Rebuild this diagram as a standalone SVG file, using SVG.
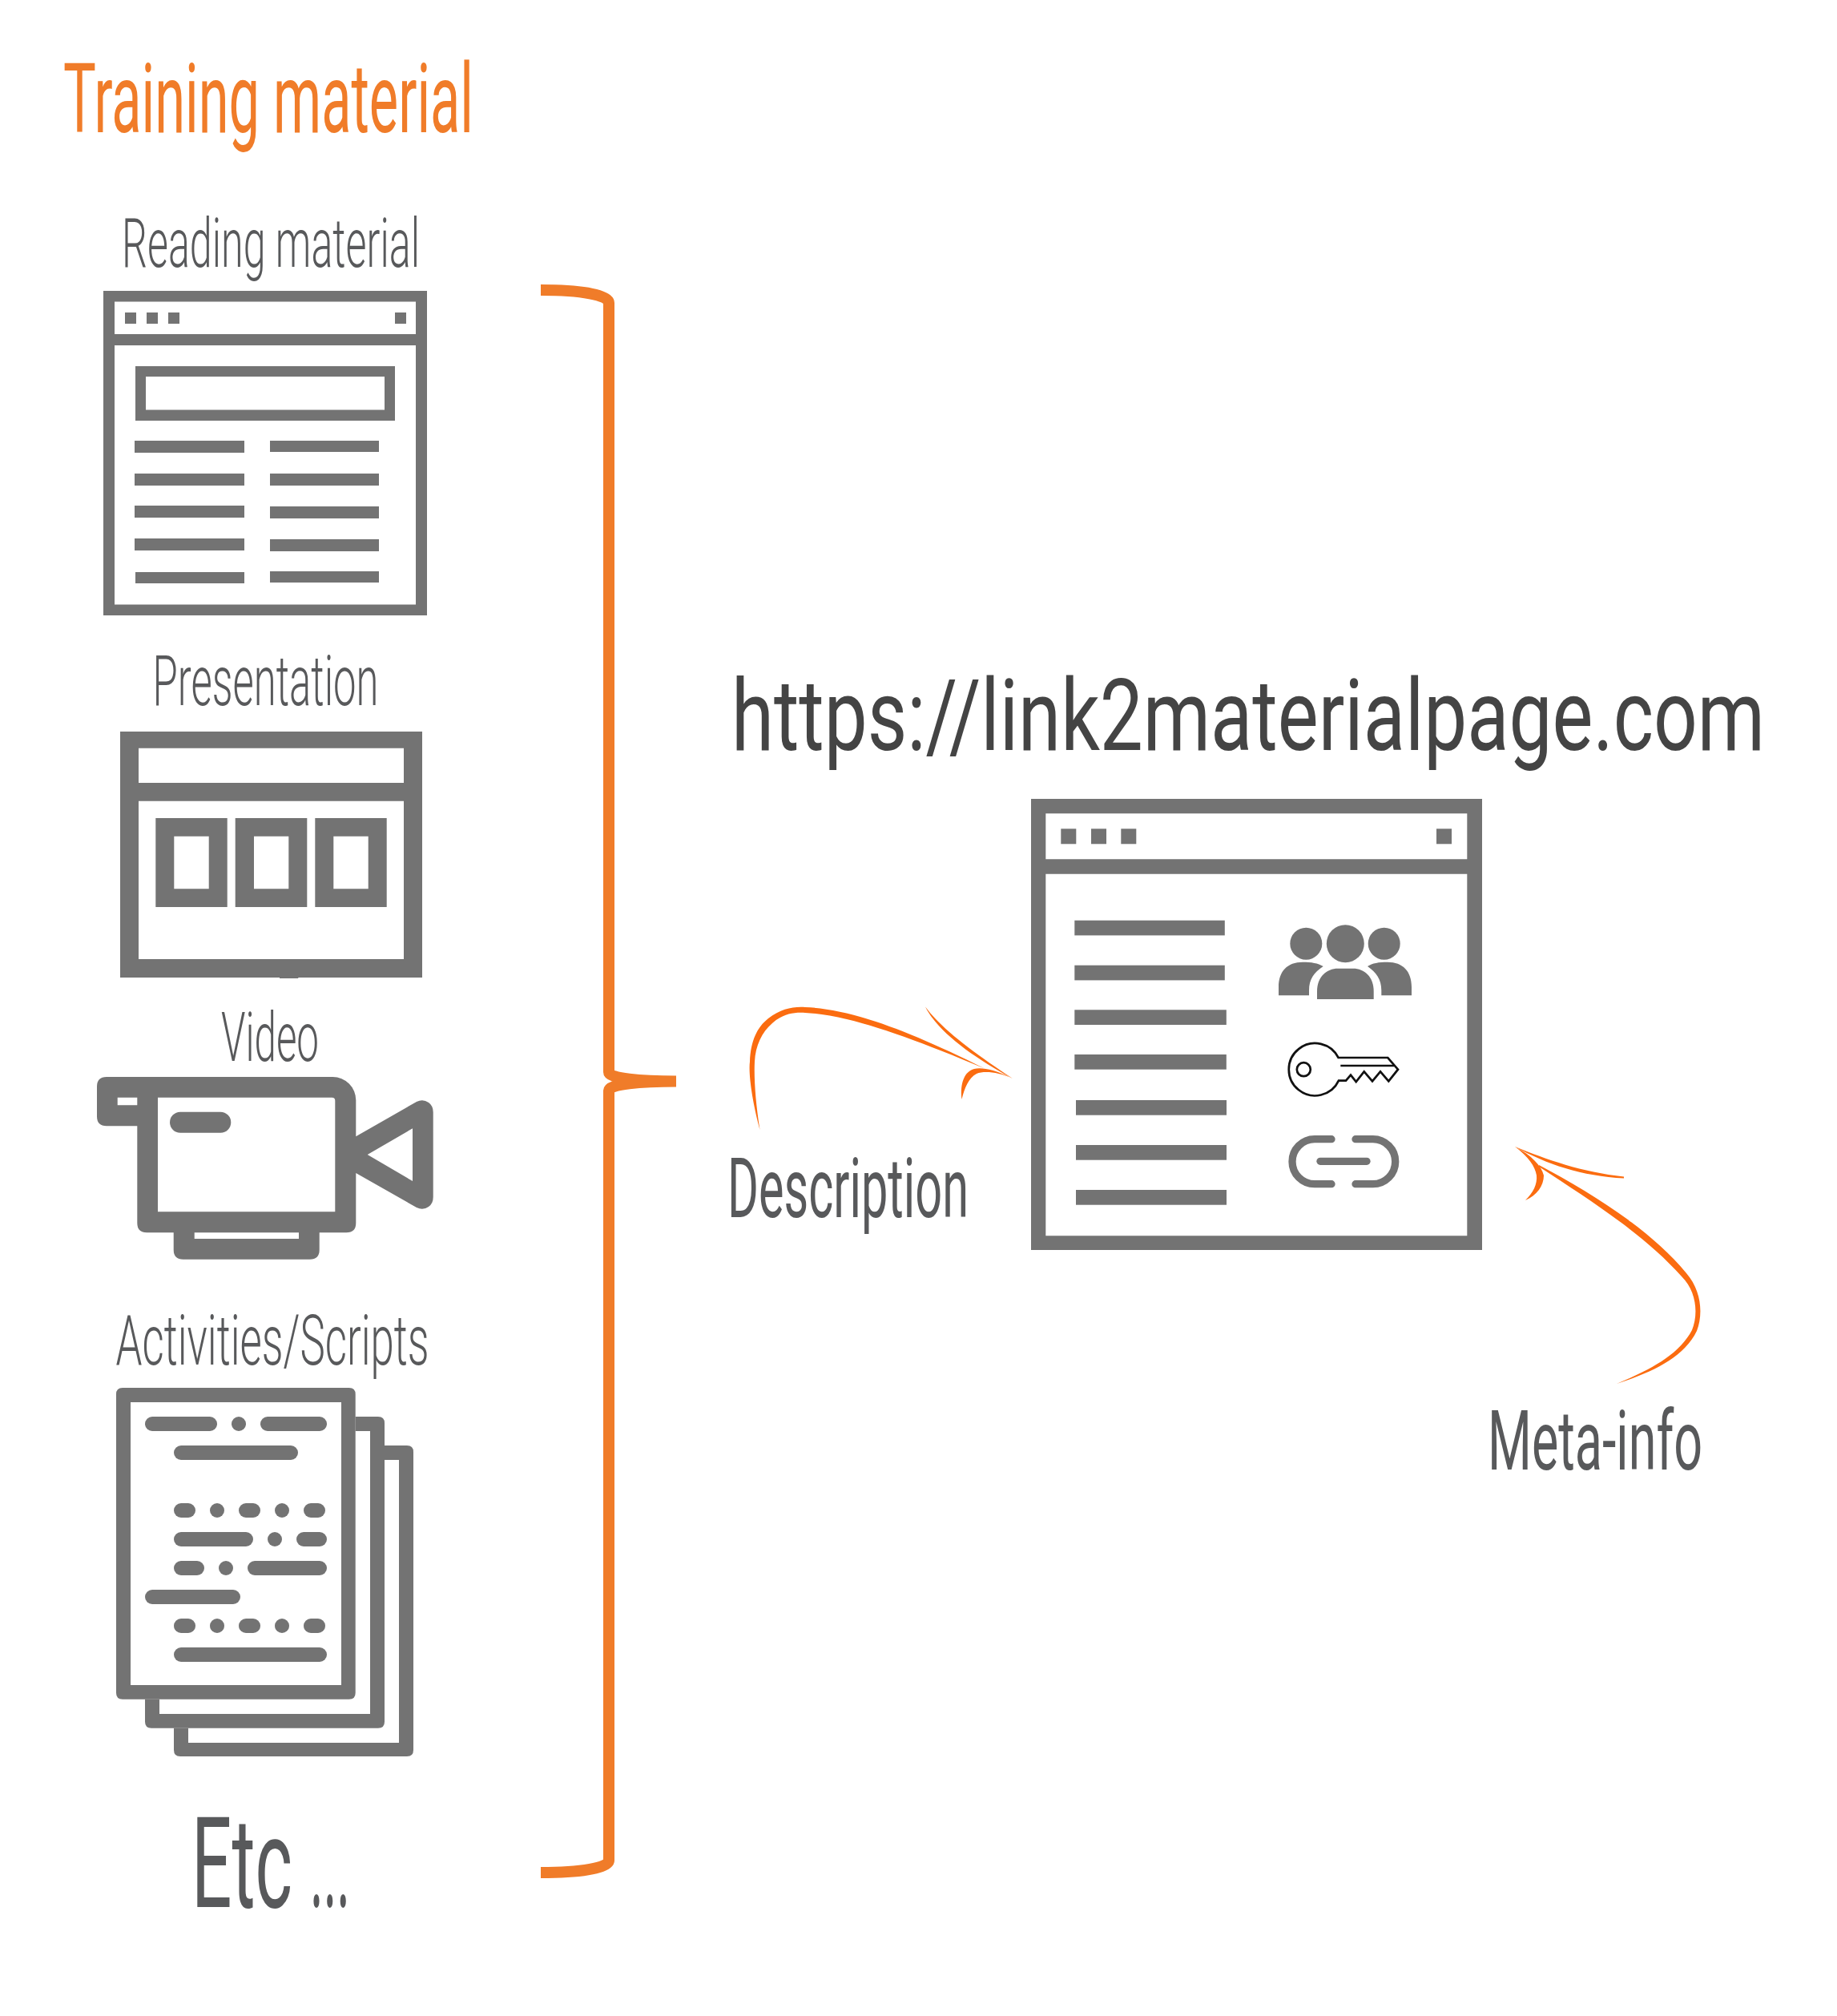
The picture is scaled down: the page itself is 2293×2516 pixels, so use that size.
<svg xmlns="http://www.w3.org/2000/svg" width="2293" height="2516" viewBox="0 0 2293 2516">
<style>
.g{fill:#737373}
.t{font-family:"Roboto","Liberation Sans",sans-serif;font-weight:300;fill:#58595b;text-anchor:start}
.m{font-weight:400}
.a{fill:#fb6c10}
.k{fill:none;stroke:#111;stroke-width:2.700}
</style>
<rect width="2293" height="2516" fill="#fff"/>
<g id="title"><text class="t m" style="fill:#f07c29" x="79" y="165" font-size="121" textLength="512" lengthAdjust="spacingAndGlyphs">Training material</text></g>
<g id="reading-material">
<text class="t" x="152" y="333" font-size="86" textLength="372" lengthAdjust="spacingAndGlyphs">Reading material</text>
<path class="g" fill-rule="evenodd" d="M129,363H533V768H129ZM143,376.500V417H519V376.500ZM143,431V754.500H519V431Z"/>
<rect class="g" x="156" y="390" width="14" height="14"/><rect class="g" x="183" y="390" width="14" height="14"/><rect class="g" x="210" y="390" width="14" height="14"/><rect class="g" x="493" y="390" width="14" height="14"/>
<path class="g" fill-rule="evenodd" d="M169,457H493V525H169ZM182,470V511.500H480V470Z"/>
<rect class="g" x="168" y="550" width="137" height="15"/><rect class="g" x="337" y="550" width="136" height="14"/>
<rect class="g" x="168" y="591" width="137" height="15"/><rect class="g" x="337" y="591" width="136" height="15"/>
<rect class="g" x="168" y="631" width="137" height="15"/><rect class="g" x="337" y="632" width="136" height="15"/>
<rect class="g" x="168" y="672" width="137" height="15"/><rect class="g" x="337" y="673" width="136" height="15"/>
<rect class="g" x="169" y="714" width="136" height="14"/><rect class="g" x="337" y="713" width="136" height="14"/>
</g>
<g id="presentation">
<text class="t" x="190.500" y="880" font-size="87" textLength="282" lengthAdjust="spacingAndGlyphs">Presentation</text>
<path class="g" fill-rule="evenodd" d="M150,913H527V1220H372.300V1221H349V1220H150ZM173,933.700V977H504V933.700ZM173,999.700V1197H504V999.700Z"/>
<path class="g" fill-rule="evenodd" d="M194.300,1021H283.700V1132H194.300ZM217.300,1043.700V1109.300H260.700V1043.700ZM293.700,1021H383.300V1132H293.700ZM317,1043.700V1109.300H360.300V1043.700ZM393.300,1021H482.700V1132H393.300ZM416.300,1043.700V1109.300H459.700V1043.700Z"/>
</g>
<g id="video">
<text class="t" x="276" y="1324" font-size="86" textLength="122" lengthAdjust="spacingAndGlyphs">Video</text>
<path class="g" fill-rule="evenodd" d="M131,1344H415.300A29,29 0 0 1 444.300,1373V1418.300L520,1375Q528,1371 535,1376Q540.700,1380 540.700,1388V1494Q540.700,1502 535,1506Q528,1511 520,1507L444.300,1464V1526.300Q444.300,1538.300 432.300,1538.300H398.700V1559.700Q398.700,1571.700 386.700,1571.700H228.700Q216.700,1571.700 216.700,1559.700V1538.300H183.300Q171.300,1538.300 171.300,1526.300V1405.300H133Q121,1405.300 121,1393.300V1356Q121,1344 133,1344ZM146.700,1369.700V1379.300H171.300V1369.700ZM197,1369.700V1512.300H418.300V1373.700Q418.300,1369.700 414.300,1369.700ZM242.700,1538.300V1546H373V1538.300ZM515,1408.300L458.700,1441L515,1474Z"/>
<rect class="g" x="212" y="1387.700" width="76.300" height="26" rx="13"/>
</g>
<g id="activities">
<text class="t" x="144.500" y="1703" font-size="87" textLength="391" lengthAdjust="spacingAndGlyphs">Activities/Scripts</text>
<path class="g" fill-rule="evenodd" d="M225,1804H508Q516,1804 516,1812V2184Q516,2192 508,2192H225Q217,2192 217,2184V2156.700H235V2175H498V1822H480V1804Z"/>
<path class="g" fill-rule="evenodd" d="M189,2120.700H199V2139H462V1786H443.700V1768H472Q480,1768 480,1776V2148.700Q480,2156.700 472,2156.700H189Q181,2156.700 181,2148.700V2120.700Z"/>
<path class="g" fill-rule="evenodd" d="M153,1732H435.700Q443.700,1732 443.700,1740V2112.700Q443.700,2120.700 435.700,2120.700H153Q145,2120.700 145,2112.700V1740Q145,1732 153,1732ZM163,1750V2103H426V1750Z"/>
<g class="g">
<rect x="181" y="1768" width="90" height="18" rx="9"/><rect x="289" y="1768" width="18" height="18" rx="9"/><rect x="325" y="1768" width="83" height="18" rx="9"/>
<rect x="217" y="1804" width="155" height="18" rx="9"/>
<rect x="217" y="1876" width="27" height="18" rx="9"/><rect x="262" y="1876" width="18" height="18" rx="9"/><rect x="298" y="1876" width="27" height="18" rx="9"/><rect x="343" y="1876" width="18" height="18" rx="9"/><rect x="379" y="1876" width="27" height="18" rx="9"/>
<rect x="217" y="1912" width="99" height="18" rx="9"/><rect x="334" y="1912" width="18" height="18" rx="9"/><rect x="370" y="1912" width="38" height="18" rx="9"/>
<rect x="217" y="1948" width="38" height="18" rx="9"/><rect x="273" y="1948" width="18" height="18" rx="9"/><rect x="309" y="1948" width="99" height="18" rx="9"/>
<rect x="181" y="1984" width="119" height="18" rx="9"/>
<rect x="217" y="2020" width="27" height="18" rx="9"/><rect x="262" y="2020" width="18" height="18" rx="9"/><rect x="298" y="2020" width="27" height="18" rx="9"/><rect x="343" y="2020" width="18" height="18" rx="9"/><rect x="379" y="2020" width="27" height="18" rx="9"/>
<rect x="217" y="2056" width="191" height="18" rx="9"/>
</g>
</g>
<g id="etc"><text class="t m" transform="translate(239,2380) scale(0.5,1)" y="0" font-size="157"><tspan x="0" textLength="252" lengthAdjust="spacingAndGlyphs">Etc</tspan> <tspan x="296" textLength="100" lengthAdjust="spacingAndGlyphs">...</tspan></text></g>
<g id="url"><text class="t m" style="fill:#444" transform="translate(913,936) scale(0.7,1)" x="0" y="0" font-size="125" textLength="1843" lengthAdjust="spacingAndGlyphs">https://link2materialpage.com</text></g>
<g id="material-page">
<path class="g" fill-rule="evenodd" d="M1287,997H1850V1560H1287ZM1305.300,1015.300V1072.300H1831.300V1015.300ZM1305.300,1090.700V1542.300H1831.300V1090.700Z"/>
<rect class="g" x="1324.300" y="1034.300" width="19" height="19"/><rect class="g" x="1362" y="1034.300" width="19" height="19"/><rect class="g" x="1399.300" y="1034.300" width="19" height="19"/><rect class="g" x="1793" y="1034.300" width="19" height="19"/>
<rect class="g" x="1341.300" y="1148.700" width="187.500" height="18.700"/>
<rect class="g" x="1341.300" y="1204.700" width="187.500" height="18.700"/>
<rect class="g" x="1341.300" y="1260.300" width="189.500" height="18.700"/>
<rect class="g" x="1341.300" y="1316" width="189.500" height="18.700"/>
<rect class="g" x="1343" y="1373" width="188" height="18.700"/>
<rect class="g" x="1343" y="1429" width="188" height="18.700"/>
<rect class="g" x="1343" y="1485" width="188" height="18.700"/>
<g id="people" class="g">
<circle cx="1630.300" cy="1177.700" r="20"/><circle cx="1679.300" cy="1177.700" r="23.500"/><circle cx="1727.700" cy="1177.700" r="20"/>
<path d="M1596,1242.300V1232C1596,1212 1607,1200.700 1626,1200.700C1637,1200.700 1645,1202 1651.700,1206C1640,1214 1634,1222 1634,1236V1242.300Z"/>
<path d="M1762,1242.300V1232C1762,1212 1751,1200.700 1732,1200.700C1721,1200.700 1713,1202 1707,1206C1718,1214 1724.300,1222 1724.300,1236V1242.300Z"/>
<path d="M1644,1247V1237C1644,1219 1656,1208.700 1670,1208.700H1689C1703,1208.700 1714.700,1219 1714.700,1237V1247Z"/>
</g>
<g id="key">
<path class="k" d="M1671,1320.700A32.700,32.700 0 1 0 1671,1348.700H1680L1686,1341.700L1692.700,1350L1702.700,1337.300L1713,1349.300L1723,1337.300L1733.300,1349.300L1745,1334.700L1732.300,1320H1671Z"/>
<path class="k" d="M1673.300,1330H1740"/>
<circle class="k" cx="1627.300" cy="1334.700" r="8.500"/>
</g>
<g id="link" fill="none" stroke="#737373" stroke-width="9.300" stroke-linecap="round">
<path d="M1662,1421.700H1641A28,28 0 0 0 1641,1477.700H1662"/>
<path d="M1692,1421.700H1713.700A28,28 0 0 1 1713.700,1477.700H1692"/>
<path d="M1648,1449.300H1706"/>
</g>
</g>
<g id="description"><text class="t m" transform="translate(908,1519) scale(0.7,1)" x="0" y="0" font-size="104" textLength="430" lengthAdjust="spacingAndGlyphs">Description</text></g>
<g id="meta-info"><text class="t m" transform="translate(1857,1834) scale(0.7,1)" x="0" y="0" font-size="104" textLength="383" lengthAdjust="spacingAndGlyphs">Meta-info</text></g>
<g id="connectors">
<path id="brace" fill="none" stroke="#f07c29" stroke-width="14" d="M675,362C725,362 760,368 760,378V1338C760,1346 800,1349.500 844,1349.500C800,1349.500 760,1353 760,1361V2322C760,2331 725,2337 675,2337"/>
<path class="a" d="M948.500,1410C939,1375 934,1340 936,1325C937,1299 945,1282 959,1271C975,1259 990,1256 1005,1257C1060,1259 1130,1284 1229,1333.500C1130,1292 1060,1267 1005,1264C990,1263 976,1266 964,1277C951,1288 943,1305 942,1325C941,1345 943,1375 948.500,1410Z"/>
<path class="a" d="M1155,1256.500C1176,1285 1216,1314 1264,1346C1214,1319 1171,1288 1155,1256.500Z"/>
<path class="a" d="M1264,1346C1240,1334 1225,1332 1216,1334C1204,1337 1198,1352 1200.500,1372C1204,1358 1209,1345 1219,1340C1229,1336 1246,1338 1264,1346Z"/>
<path class="a" d="M1921,1454C1985,1488 2060,1534 2105,1589C2124,1611 2126,1640 2118,1661C2101,1696 2060,1713 2018,1727C2058,1710 2095,1692 2112,1660C2120,1640 2118,1612 2099,1593C2053,1541 1985,1498 1921,1456Z"/>
<path class="a" d="M1891,1431C1930,1447 1975,1463 2027,1468.500L2027,1470.500C1975,1468 1930,1453 1891,1431Z"/>
<path class="a" d="M1891,1431C1912,1442 1924,1455 1927,1467C1927,1480 1918,1492 1904,1498C1914,1488 1919,1478 1918,1467C1916,1455 1908,1444 1891,1431Z"/>
</g>
</svg>
